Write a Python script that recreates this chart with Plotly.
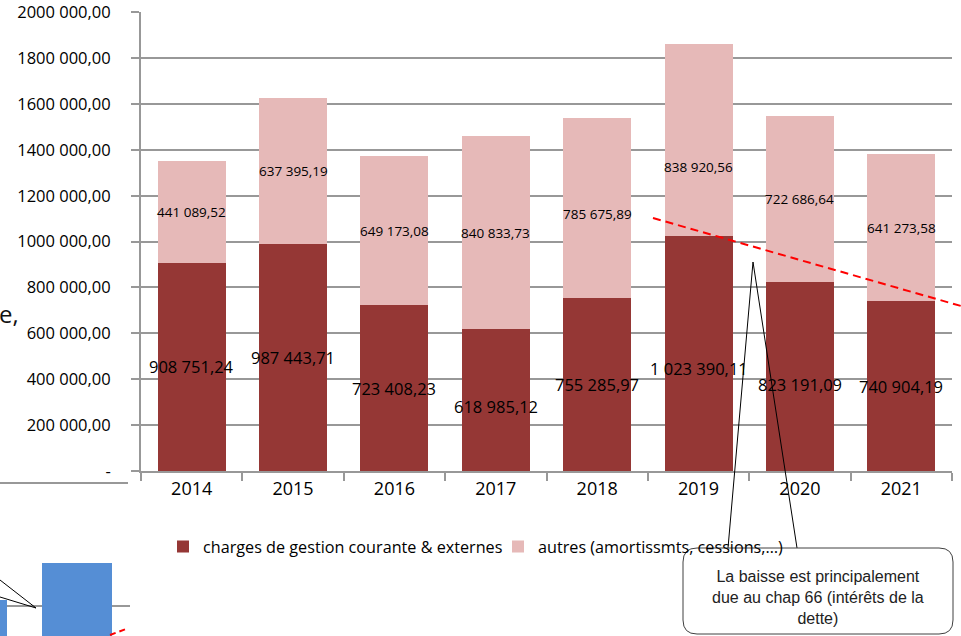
import plotly.graph_objects as go

# ---------------- data ----------------
years = ["2014", "2015", "2016", "2017", "2018", "2019", "2020", "2021"]
charges = [908751.24, 987443.71, 723408.23, 618985.12, 755285.97, 1023390.11, 823191.09, 740904.19]
autres = [441089.52, 637395.19, 649173.08, 840833.73, 785675.89, 838920.56, 722686.64, 641273.58]
series_names = ["charges de gestion courante & externes", "autres (amortissmts, cessions,\u2026)"]
ytick_vals = [0, 200000, 400000, 600000, 800000, 1000000, 1200000, 1400000, 1600000, 1800000, 2000000]
ytick_text = ["-", "200 000,00", "400 000,00", "600 000,00", "800 000,00", "1000 000,00",
              "1200 000,00", "1400 000,00", "1600 000,00", "1800 000,00", "2000 000,00"]
callout_text = "La baisse est principalement<br>due au chap 66 (intérêts de la<br>dette)"

# fragment of a neighbouring chart (bottom-left), values estimated
mini_x = [0, 1]
mini_vals = [1.10, 1.70]

# ---------------- styles ----------------
W, H = 961, 636
DARK = "#953735"
PINK = "#E6B9B8"
GRID = "#989898"
FONT = "Open Sans"


def px(x):
    return x / W


def py(y):
    return 1 - y / H


def fmt(v):
    s = f"{v:,.2f}"
    return s.replace(",", " ").replace(".", ",")


fig = go.Figure()
fig.add_trace(go.Bar(x=years, y=charges, name=series_names[0], marker=dict(color=DARK, line=dict(width=0))))
fig.add_trace(go.Bar(x=years, y=autres, name=series_names[1], marker=dict(color=PINK, line=dict(width=0))))

fig.add_trace(go.Bar(x=mini_x, y=mini_vals, xaxis="x2", yaxis="y2", width=0.667,
                     marker=dict(color="#558ED5", line=dict(width=0)), showlegend=False,
                     hoverinfo="skip"))

annotations = []
# segment labels (x given as category index)
yshift_lower = {"2017": -6, "2019": -15, "2020": -8}
yshift_upper = {"2018": -6, "2019": -27}
for i, yr in enumerate(years):
    annotations.append(dict(x=i, y=charges[i] / 2, xref="x", yref="y", text=fmt(charges[i]),
                            showarrow=False, font=dict(family=FONT, size=16.5, color="#000"),
                            yshift=yshift_lower.get(yr, 0)))
    annotations.append(dict(x=i, y=charges[i] + autres[i] / 2, xref="x", yref="y", text=fmt(autres[i]),
                            showarrow=False, font=dict(family=FONT, size=13.5, color="#000"),
                            yshift=yshift_upper.get(yr, 0)))

annotations.append(dict(x=px(818), y=py(597), xref="paper", yref="paper", text=callout_text,
                        showarrow=False, align="center", xanchor="center", yanchor="middle",
                        font=dict(family="Liberation Sans, Arial", size=16, color="#222")))
annotations.append(dict(x=px(-3), y=py(313), xref="paper", yref="paper", text="e,",
                        showarrow=False, xanchor="left", yanchor="middle",
                        font=dict(family=FONT, size=24, color="#111")))


def pline(x0, y0, x1, y1, color="#000", width=1, dash=None):
    d = dict(type="line", xref="paper", yref="paper", x0=px(x0), y0=py(y0), x1=px(x1), y1=py(y1),
             line=dict(color=color, width=width), layer="above")
    if dash:
        d["line"]["dash"] = dash
    return d


def rounded_rect(x0, y0, x1, y1, r):
    pts = [
        f"M{px(x0 + r)},{py(y0)}",
        f"L{px(x1 - r)},{py(y0)}",
        f"Q{px(x1)},{py(y0)} {px(x1)},{py(y0 + r)}",
        f"L{px(x1)},{py(y1 - r)}",
        f"Q{px(x1)},{py(y1)} {px(x1 - r)},{py(y1)}",
        f"L{px(x0 + r)},{py(y1)}",
        f"Q{px(x0)},{py(y1)} {px(x0)},{py(y1 - r)}",
        f"L{px(x0)},{py(y0 + r)}",
        f"Q{px(x0)},{py(y0)} {px(x0 + r)},{py(y0)}",
        "Z",
    ]
    return dict(type="path", xref="paper", yref="paper", path=" ".join(pts),
                fillcolor="white", line=dict(color="#404040", width=1), layer="above")


shapes = [
    pline(0, 483, 128, 483, color=GRID, width=2),
    pline(0, 580, 36, 608),
    pline(0, 597, 36, 608),
    pline(110, 635, 126, 629, color="#ff0000", width=2, dash="6px,4px"),
    pline(653, 218, 961, 306, color="#ff0000", width=2, dash="8px,5px"),
    pline(753, 262, 728, 548),
    pline(753, 262, 797, 548),
    rounded_rect(683, 548, 953, 634, 14),
]

fig.update_layout(
    width=W, height=H,
    margin=dict(l=0, r=0, t=0, b=0, autoexpand=False),
    paper_bgcolor="white", plot_bgcolor="white",
    barmode="stack", bargap=0.33,
    xaxis=dict(domain=[px(141), px(952)], type="category", range=[-0.5, 7.5], showline=True,
               linecolor=GRID, linewidth=2,
               ticks="outside", tickson="boundaries", ticklen=8, tickcolor=GRID, tickwidth=2,
               tickfont=dict(family="Liberation Sans Narrow, Open Sans", size=18, color="#000"),
               showgrid=False, fixedrange=True),
    yaxis=dict(domain=[py(471), py(12)], range=[0, 2001000], tickvals=ytick_vals, ticktext=ytick_text,
               showline=True, linecolor=GRID, linewidth=2, ticks="outside", ticklen=8,
               tickcolor=GRID, tickwidth=2, showgrid=True, gridcolor=GRID, gridwidth=2,
               zeroline=False, ticklabelstandoff=17,
               tickfont=dict(family=FONT, size=16.5, color="#000")),
    xaxis2=dict(domain=[0, px(130)], range=[0.267, 1.505], anchor="y2", showticklabels=False,
                showgrid=False, zeroline=False, showline=False, ticks=""),
    yaxis2=dict(domain=[0, py(545)], range=[0.508, 2.0], anchor="x2", tickvals=[1, 2],
                showticklabels=False, showgrid=True, gridcolor=GRID, gridwidth=2, zeroline=False,
                showline=False, ticks=""),
    legend=dict(orientation="h", x=px(163), y=py(547), xanchor="left", yanchor="middle",
                entrywidth=290, font=dict(family=FONT, size=16.2, color="#000"),
                bgcolor="rgba(0,0,0,0)", traceorder="normal"),
    showlegend=True,
    annotations=annotations,
    shapes=shapes,
)

fig.write_html("out.html", config={"displayModeBar": False},
               post_script="document.body.style.margin='0';document.body.style.overflow='hidden';")
